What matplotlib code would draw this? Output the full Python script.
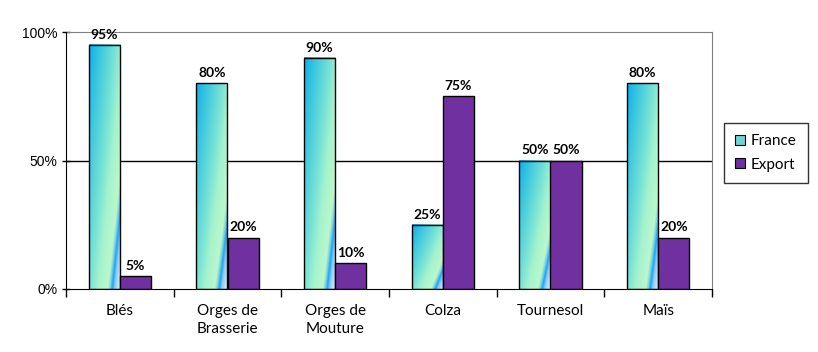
import numpy as np
import matplotlib
matplotlib.use("Agg")
import matplotlib.pyplot as plt
from matplotlib.colors import LinearSegmentedColormap
from matplotlib.patches import Patch

categories = ["Blés", "Orges de\nBrasserie", "Orges de\nMouture", "Colza", "Tournesol", "Maïs"]
france = [95, 80, 90, 25, 50, 80]
export = [5, 20, 10, 75, 50, 20]
series_names = ["France", "Export"]
y_ticks = [0, 50, 100]
y_tick_labels = ["0%", "50%", "100%"]

label_font = ["Lato", "DejaVu Sans"]
axis_font = ["Liberation Sans", "DejaVu Sans"]

fig = plt.figure(figsize=(8.18, 3.52), dpi=100)
ax = fig.add_axes([66/818, 1-289/352, (712-66)/818, (289-32)/352])

x = np.arange(len(categories))
w = 0.29
bars_f = ax.bar(x - w/2, france, w, color="none", edgecolor="black", linewidth=1, zorder=4)
bars_e = ax.bar(x + w/2, export, w, color="#7030a0", edgecolor="black", linewidth=1, zorder=4)

# gradient fill for France bars (s = u + K*v, u across, v downward)
K = 0.83
SMAX = 1 + K
raw_stops = [
    (0.00, (0.06, 0.68, 0.93)),
    (0.40, (0.25, 0.79, 0.87)),
    (0.85, (0.48, 0.89, 0.84)),
    (1.10, (0.64, 0.95, 0.81)),
    (1.42, (0.74, 0.97, 0.79)),
    (1.50, (0.45, 0.83, 0.90)),
    (1.56, (0.10, 0.64, 0.94)),
    (1.64, (0.55, 0.80, 0.97)),
    (SMAX, (0.90, 0.96, 1.00)),
]
stops = [(p / SMAX, c) for p, c in raw_stops]
cmap = LinearSegmentedColormap.from_list("grad", stops)
for b in bars_f:
    x0, bw, h = b.get_x(), b.get_width(), b.get_height()
    ny, nx = 400, 80
    u = np.linspace(0, 1, nx)[None, :]
    v = np.linspace(0, 1, ny)[:, None]  # 0 top, 1 bottom
    s = u + K * v
    ax.imshow(s, cmap=cmap, vmin=0, vmax=SMAX, extent=(x0, x0 + bw, 0, h),
              origin="upper", aspect="auto", zorder=3, interpolation="bilinear")

for bars in (bars_f, bars_e):
    for b in bars:
        ax.annotate(f"{int(b.get_height())}%",
                    (b.get_x() + b.get_width()/2, b.get_height()),
                    xytext=(0, 3), textcoords="offset points", ha="center", va="bottom",
                    fontsize=10, fontweight="bold", family=label_font, zorder=5)

ax.set_xlim(-0.5, len(categories) - 0.5)
ax.set_ylim(0, 100)
ax.axhline(50, color="black", linewidth=1, zorder=2)

ax.set_yticks(y_ticks)
ax.set_yticklabels(y_tick_labels, family=axis_font, fontsize=10)
ax.tick_params(axis="y", direction="inout", length=6, width=1, pad=3)

ax.set_xticks(x)
ax.set_xticklabels(categories, family=label_font, fontsize=11, linespacing=1.35)
ax.set_xticks(np.arange(len(categories) + 1) - 0.5, minor=True)
ax.tick_params(axis="x", which="major", length=0, pad=11)
ax.tick_params(axis="x", which="minor", direction="out", length=6, width=1)

for side in ("top", "right"):
    ax.spines[side].set_color("#808080")
for side in ("left", "bottom"):
    ax.spines[side].set_color("black")
    ax.spines[side].set_zorder(6)

handles = [Patch(facecolor="#6fd3d6", edgecolor="black", linewidth=0.8),
           Patch(facecolor="#7030a0", edgecolor="black", linewidth=0.8)]
leg = fig.legend(handles, series_names, loc="upper left",
                 bbox_to_anchor=(724/818, 1-123/352), frameon=True, fancybox=False,
                 prop={"family": label_font, "size": 11}, handlelength=0.6, handleheight=0.6,
                 handletextpad=0.4, borderpad=0.75, labelspacing=0.6, borderaxespad=0)
leg.get_frame().set_edgecolor("black")
leg.get_frame().set_linewidth(1)

fig.savefig("out.png", dpi=100)
